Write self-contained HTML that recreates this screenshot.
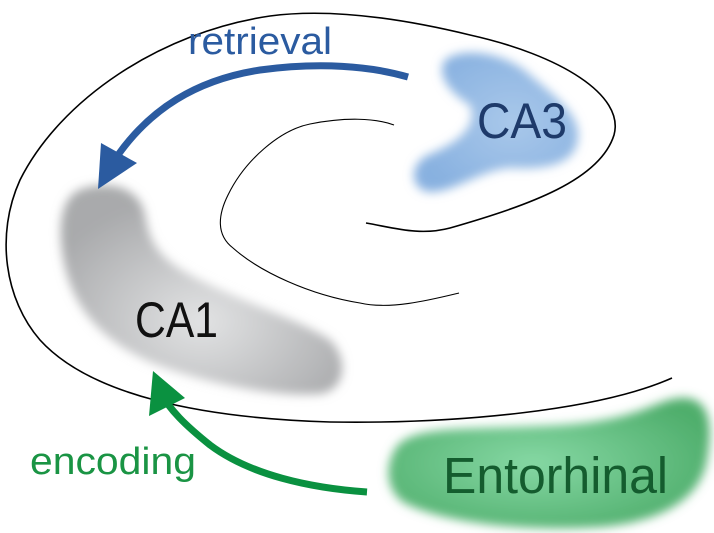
<!DOCTYPE html>
<html><head><meta charset="utf-8"><style>html,body{margin:0;padding:0;background:#fff;}svg{display:block}</style></head>
<body>
<svg width="714" height="533" viewBox="0 0 714 533" xmlns="http://www.w3.org/2000/svg">
<defs>
<filter id="b" x="-20%" y="-20%" width="140%" height="140%"><feGaussianBlur stdDeviation="5"/></filter>
<radialGradient id="g1" cx="0.5" cy="0.65" r="0.6"><stop offset="0" stop-color="#e2e3e4"/><stop offset="1" stop-color="#a9aaac"/></radialGradient>
<radialGradient id="g2" cx="0.45" cy="0.5" r="0.6"><stop offset="0" stop-color="#86d8a4"/><stop offset="1" stop-color="#4fae6c"/></radialGradient>
<radialGradient id="g3" cx="0.6" cy="0.5" r="0.6"><stop offset="0" stop-color="#a9c8ea"/><stop offset="1" stop-color="#88b1e0"/></radialGradient>
</defs>
<path filter="url(#b)" fill="url(#g3)" d="M445 60 C465 45 510 55 530 75 C560 100 578 115 578 135 C578 165 545 170 510 168 C480 170 455 192 430 192 C410 190 408 165 428 155 C460 142 478 125 470 105 C452 95 435 75 445 60 Z"/>
<path filter="url(#b)" fill="url(#g1)" d="M85 188 C115 180 140 190 145 215 C150 245 160 260 200 280 C250 305 300 320 330 340 C350 360 345 392 318 394 C270 397 200 382 150 362 C95 337 68 300 62 250 C58 220 63 193 85 188 Z"/>
<path filter="url(#b)" fill="url(#g2)" d="M398 445 C418 425 470 430 560 425 C640 420 655 400 680 398 C708 396 714 420 707 460 C700 500 660 522 600 527 C520 532 440 522 403 502 C383 487 386 460 398 445 Z"/>
<path fill="none" stroke="#000" stroke-width="1.6" d="M366 223 C395 228 420 236 450 228 C530 205 600 180 614 135 C625 95 560 55 470 35 C400 18 330 8 270 16 C160 32 60 100 20 180 C-5 235 5 300 40 340 C90 395 200 418 330 422 C460 424 600 410 672 378"/>
<path fill="none" stroke="#000" stroke-width="1.1" d="M394 125 C375 118 345 117 310 124 C280 130 245 160 228 195 C218 215 216 235 233 248 C260 272 310 295 360 303 C390 310 430 300 459 293"/>
<path fill="none" stroke="#2b5ba0" stroke-width="7" d="M408 77 C370 66 320 62 260 70 C195 80 150 110 118 155"/>
<polygon fill="#2b5ba0" points="98,189 101,143 137,163"/>
<text x="188" y="54" font-family="Liberation Sans, sans-serif" font-size="38" fill="#2b5ba0" textLength="144" lengthAdjust="spacingAndGlyphs">retrieval</text>
<path fill="none" stroke="#0a9140" stroke-width="7" d="M367 492 C310 488 250 475 210 445 C185 425 170 410 160 392"/>
<polygon fill="#0a9140" points="153,371 149,416 185,398"/>
<text x="30" y="474" font-family="Liberation Sans, sans-serif" font-size="38" fill="#1a9444" textLength="166" lengthAdjust="spacingAndGlyphs">encoding</text>
<text x="477" y="138" font-family="Liberation Sans, sans-serif" font-size="50" fill="#1e3a6a" textLength="90" lengthAdjust="spacingAndGlyphs">CA3</text>
<text x="135" y="337" font-family="Liberation Sans, sans-serif" font-size="50" fill="#111" textLength="83" lengthAdjust="spacingAndGlyphs">CA1</text>
<text x="443" y="493" font-family="Liberation Sans, sans-serif" font-size="51" fill="#145c2e" textLength="225" lengthAdjust="spacingAndGlyphs">Entorhinal</text>
</svg>
</body></html>
